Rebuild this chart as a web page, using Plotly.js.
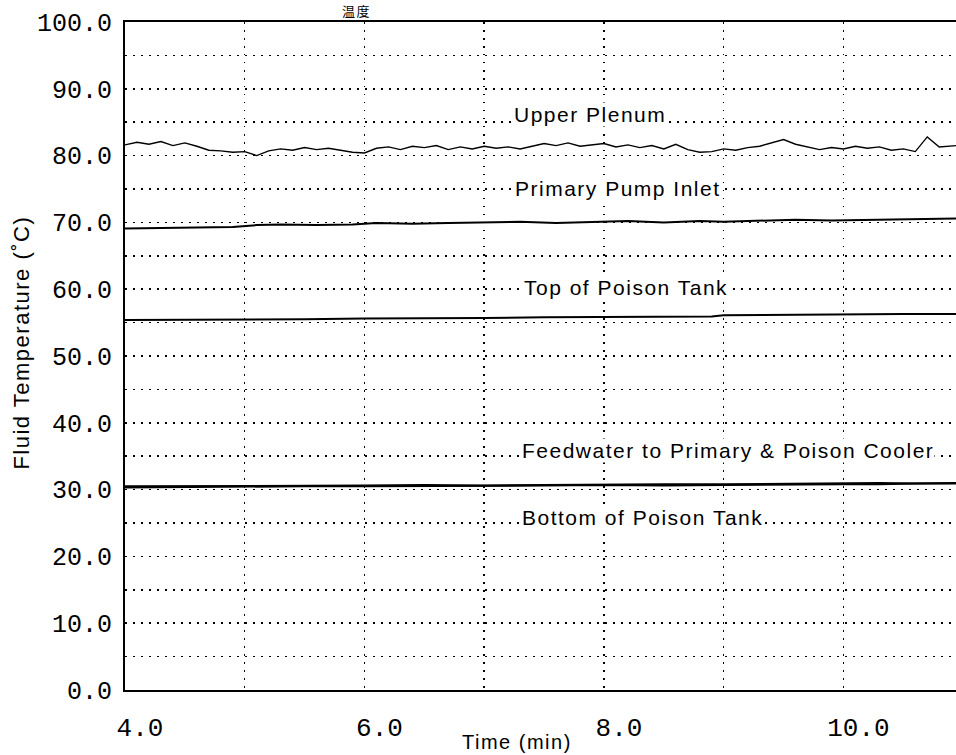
<!DOCTYPE html>
<html>
<head>
<meta charset="utf-8">
<script src="https://cdn.plot.ly/plotly-3.0.1.min.js"></script>
<style>
html,body{margin:0;padding:0;background:#fff;}
.annotation-text{letter-spacing:1.5px;}
</style>
</head>
<body>
<div id="chart" style="width:956px;height:755px;"></div>
<script>
// ---- data ----
const upperTime = [4.0,4.1,4.2,4.3,4.4,4.5,4.6,4.7,4.8,4.9,5.0,5.1,5.2,5.3,5.4,5.5,5.6,5.7,5.8,5.9,
  6.0,6.1,6.2,6.3,6.4,6.5,6.6,6.7,6.8,6.9,7.0,7.1,7.2,7.3,7.4,7.5,7.6,7.7,7.8,7.9,
  8.0,8.1,8.2,8.3,8.4,8.5,8.6,8.7,8.8,8.9,9.0,9.1,9.2,9.3,9.4,9.5,9.6,9.7,9.8,9.9,
  10.0,10.1,10.2,10.3,10.4,10.5,10.6,10.7,10.8,10.94];
const upperPlenum = [81.6,82.0,81.7,82.1,81.5,81.9,81.4,80.8,80.7,80.5,80.6,80.0,80.7,81.0,80.8,81.2,80.9,81.1,80.8,80.5,
  80.4,81.1,81.3,80.9,81.4,81.2,81.5,80.9,81.3,81.0,81.4,81.1,81.3,81.0,81.4,81.8,81.5,81.9,81.4,81.6,
  81.8,81.3,81.6,81.2,81.5,81.0,81.7,80.9,80.5,80.6,81.0,80.8,81.2,81.4,81.9,82.4,81.7,81.3,80.9,81.2,
  81.0,81.4,81.1,81.3,80.8,81.0,80.6,82.8,81.3,81.5];

const pumpTime = [4.0,4.3,4.6,4.9,5.1,5.3,5.6,5.9,6.1,6.4,6.7,7.0,7.3,7.6,7.9,8.2,8.5,8.8,9.0,9.3,9.6,9.9,10.2,10.5,10.8,10.94];
const pumpInlet = [69.1,69.2,69.2,69.3,69.6,69.7,69.6,69.7,69.9,69.8,69.9,70.0,70.1,69.9,70.1,70.2,70.0,70.2,70.1,70.3,70.4,70.3,70.4,70.5,70.6,70.6];

const tankTime = [4.0,4.5,5.0,5.5,6.0,6.5,7.0,7.5,8.0,8.5,8.9,9.0,9.5,10.0,10.5,10.94];
const topPoisonTank = [55.4,55.4,55.5,55.5,55.6,55.6,55.7,55.8,55.8,55.9,55.9,56.1,56.2,56.2,56.3,56.3];

const lowTime = [4.0,4.5,5.0,5.5,6.0,6.5,7.0,7.5,8.0,8.5,9.0,9.5,10.0,10.3,10.6,10.94];
const feedwater = [30.5,30.5,30.6,30.6,30.6,30.7,30.6,30.7,30.8,30.8,30.8,30.9,30.9,31.0,30.9,31.0];
const bottomPoisonTank = [30.3,30.4,30.4,30.5,30.5,30.5,30.6,30.6,30.7,30.6,30.7,30.8,30.8,30.8,30.9,30.9];

const seriesNames = ["Upper Plenum","Primary Pump Inlet","Top of Poison Tank","Feedwater to Primary & Poison Cooler","Bottom of Poison Tank"];
const labelX = [7.24, 7.25, 7.32, 7.31, 7.31];
const labelY = [86.1, 75.1, 60.2, 35.9, 25.8];

const xTicks = [4, 6, 8, 10];
const xTickText = ["4.0", "6.0", "8.0", "10.0"];
const yTicks = [0,10,20,30,40,50,60,70,80,90,100];
const yTickText = ["0.0","10.0","20.0","30.0","40.0","50.0","60.0","70.0","80.0","90.0","100.0"];

const chartTitle = "温度";
const xTitle = "Time (min)";
const yTitle = "Fluid Temperature (˚C)";

// ---- traces ----
const traces = [
  {x: upperTime, y: upperPlenum, name: seriesNames[0], mode: "lines", line: {color: "#000", width: 1.4}},
  {x: pumpTime, y: pumpInlet, name: seriesNames[1], mode: "lines", line: {color: "#000", width: 2}},
  {x: tankTime, y: topPoisonTank, name: seriesNames[2], mode: "lines", line: {color: "#000", width: 2}},
  {x: lowTime, y: feedwater, name: seriesNames[3], mode: "lines", line: {color: "#000", width: 2}},
  {x: lowTime, y: bottomPoisonTank, name: seriesNames[4], mode: "lines", line: {color: "#000", width: 2}}
];

const labelFont = {family: "Liberation Sans, Arial, sans-serif", size: 21, color: "#000"};
const annotations = seriesNames.map((n, i) => ({
  x: labelX[i], y: labelY[i], xref: "x", yref: "y", text: n, showarrow: false,
  xanchor: "left", yanchor: "middle", bgcolor: "#fff", borderpad: 0, font: labelFont
}));
annotations.push({
  xref: "paper", yref: "paper", x: 0.472, y: -0.078, text: xTitle, showarrow: false,
  xanchor: "center", yanchor: "middle", font: {family: "Liberation Sans, Arial, sans-serif", size: 20, color: "#000"}
});
annotations.push({
  xref: "paper", yref: "paper", x: -0.124, y: 0.52, text: yTitle, showarrow: false, textangle: -90,
  xanchor: "center", yanchor: "middle", font: {family: "Liberation Sans, Arial, sans-serif", size: 22, color: "#000"}
});
// chart title (only its lower part is visible in the reference; kept fully visible here)
annotations.push({
  xref: "paper", yref: "paper", x: 0.26, y: 1.0165, text: chartTitle, showarrow: false,
  xanchor: "left", yanchor: "middle", borderpad: 0,
  font: {family: "Noto Sans CJK JP", size: 13, color: "#000"}
});

const gridDash = "1.5px,6.5px";
const tickFamily = "Liberation Mono, DejaVu Sans Mono, monospace";
const layout = {
  width: 956, height: 755,
  margin: {l: 125, r: 0, t: 22, b: 65},
  paper_bgcolor: "#fff", plot_bgcolor: "#fff",
  showlegend: false,
  hovermode: false,
  xaxis: {
    range: [4, 10.94], tickvals: xTicks, ticktext: xTickText, ticks: "",
    tickfont: {family: tickFamily, size: 26, color: "#000"},
    ticklabelshift: 15, ticklabelstandoff: 13,
    showline: true, linecolor: "#000", linewidth: 2, mirror: true,
    showgrid: true, gridcolor: "#000", gridwidth: 1.5, griddash: gridDash,
    minor: {dtick: 1, tick0: 4, showgrid: true, gridcolor: "#000", gridwidth: 1.5, griddash: gridDash},
    zeroline: false
  },
  yaxis: {
    range: [0, 100], tickvals: yTicks, ticktext: yTickText, ticks: "",
    tickfont: {family: tickFamily, size: 25, color: "#000"},
    ticklabelstandoff: 6,
    showline: true, linecolor: "#000", linewidth: 2, mirror: false,
    showgrid: true, gridcolor: "#000", gridwidth: 1.5, griddash: gridDash,
    minor: {dtick: 5, tick0: 0, showgrid: true, gridcolor: "#000", gridwidth: 1.5, griddash: gridDash},
    zeroline: false
  },
  annotations: annotations
};

Plotly.newPlot("chart", traces, layout, {displayModeBar: false, staticPlot: true});
</script>
</body>
</html>
